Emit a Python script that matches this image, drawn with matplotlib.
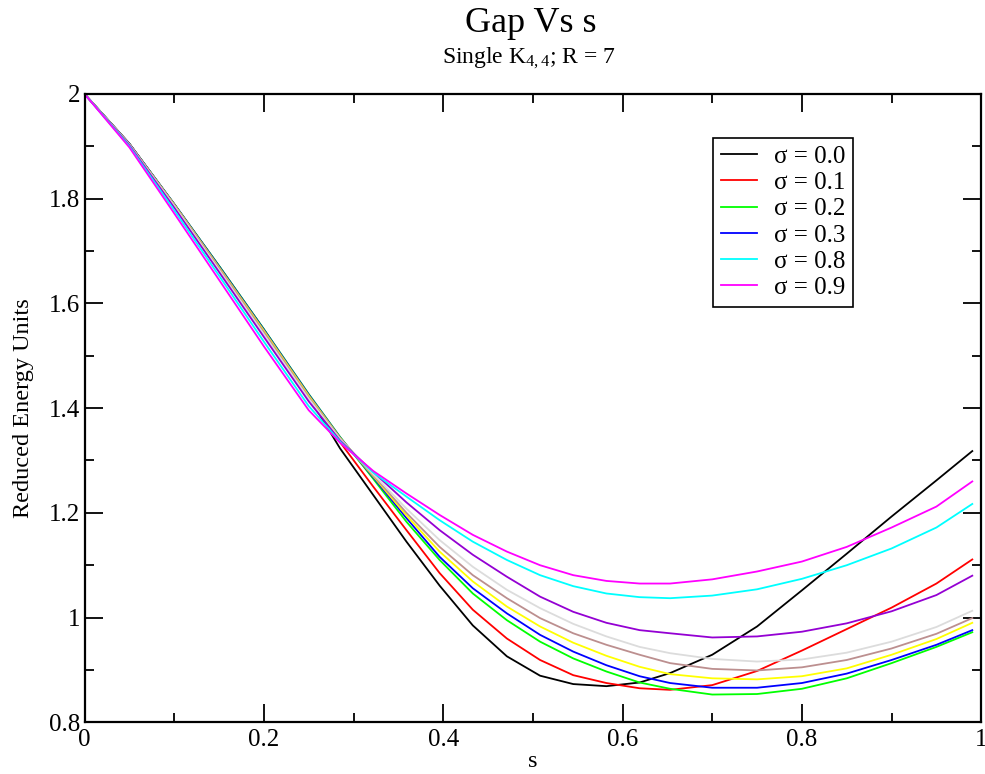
import matplotlib
matplotlib.use('Agg')
import matplotlib.pyplot as plt
from matplotlib.ticker import MultipleLocator, FuncFormatter

plt.rcParams['font.family'] = ['Liberation Serif', 'DejaVu Serif']
plt.rcParams['mathtext.fontset'] = 'custom'
plt.rcParams['mathtext.rm'] = 'Liberation Serif'
plt.rcParams['mathtext.it'] = 'Liberation Serif:italic'

s = [0, 0.05, 0.1, 0.15, 0.2, 0.25, 0.285, 0.322, 0.359, 0.396, 0.433, 0.471,
     0.508, 0.545, 0.582, 0.619, 0.653, 0.7, 0.75, 0.8, 0.85, 0.9, 0.95, 0.99]

# gap curves (reduced energy units)
black = [2.0, 1.905, 1.789, 1.671, 1.550, 1.422, 1.323, 1.234, 1.145, 1.061, 0.985, 0.926,
         0.889, 0.873, 0.869, 0.876, 0.894, 0.929, 0.983, 1.052, 1.122, 1.193, 1.262, 1.318]
red = [2.0, 1.905, 1.789, 1.670, 1.549, 1.425, 1.335, 1.250, 1.167, 1.085, 1.015, 0.960,
       0.919, 0.890, 0.875, 0.865, 0.862, 0.871, 0.898, 0.937, 0.978, 1.019, 1.065, 1.111]
green = [2.0, 1.905, 1.790, 1.672, 1.551, 1.427, 1.345, 1.265, 1.183, 1.110, 1.046, 0.995,
         0.954, 0.922, 0.897, 0.876, 0.864, 0.853, 0.854, 0.864, 0.884, 0.913, 0.944, 0.972]
blue = [2.0, 1.905, 1.790, 1.671, 1.550, 1.426, 1.344, 1.268, 1.190, 1.116, 1.056, 1.008,
        0.967, 0.935, 0.909, 0.888, 0.875, 0.866, 0.866, 0.875, 0.893, 0.919, 0.948, 0.976]
yellow = [2.0, 1.904, 1.789, 1.669, 1.548, 1.424, 1.343, 1.270, 1.195, 1.126, 1.069, 1.021,
          0.983, 0.952, 0.927, 0.906, 0.892, 0.884, 0.882, 0.888, 0.903, 0.929, 0.959, 0.990]
brown = [2.0, 1.904, 1.788, 1.667, 1.545, 1.421, 1.342, 1.272, 1.200, 1.135, 1.081, 1.037,
         0.999, 0.970, 0.948, 0.929, 0.913, 0.902, 0.899, 0.905, 0.919, 0.941, 0.969, 0.999]
grey = [2.0, 1.903, 1.786, 1.664, 1.541, 1.418, 1.341, 1.274, 1.208, 1.148, 1.097, 1.053,
        1.018, 0.988, 0.964, 0.944, 0.932, 0.921, 0.916, 0.920, 0.933, 0.954, 0.982, 1.013]
violet = [2.0, 1.902, 1.783, 1.660, 1.536, 1.413, 1.338, 1.278, 1.220, 1.167, 1.120, 1.078,
          1.040, 1.011, 0.990, 0.976, 0.970, 0.962, 0.964, 0.973, 0.989, 1.012, 1.043, 1.080]
cyan = [2.0, 1.900, 1.778, 1.653, 1.527, 1.404, 1.336, 1.277, 1.231, 1.186, 1.145, 1.110,
        1.081, 1.060, 1.046, 1.039, 1.037, 1.042, 1.054, 1.074, 1.100, 1.132, 1.172, 1.217]
magenta = [2.0, 1.898, 1.772, 1.645, 1.518, 1.396, 1.334, 1.280, 1.237, 1.196, 1.158, 1.126,
           1.100, 1.081, 1.070, 1.065, 1.065, 1.073, 1.088, 1.107, 1.135, 1.172, 1.212, 1.260]

curves = [black, red, green, blue, yellow, brown, grey, violet, cyan, magenta]
colors = ['#000000', '#ff0000', '#00ff00', '#0000ff', '#ffff00',
          '#bc8f8f', '#dcdcdc', '#9400d3', '#00ffff', '#ff00ff']
labels = ['σ = 0.0', 'σ = 0.1', 'σ = 0.2', 'σ = 0.3', None,
          None, None, None, 'σ = 0.8', 'σ = 0.9']

fig = plt.figure(figsize=(9.85, 7.74), dpi=100)
ax = fig.add_axes([0.0858, 0.0668, 0.9104, 0.8118])

for y, c, lab in zip(curves, colors, labels):
    ax.plot(s, y, color=c, lw=1.3, label=lab if lab else '_nolegend_')

ax.set_xlim(0, 1)
ax.set_ylim(0.8, 2)
ax.xaxis.set_major_locator(MultipleLocator(0.2))
ax.xaxis.set_minor_locator(MultipleLocator(0.1))
ax.yaxis.set_major_locator(MultipleLocator(0.2))
ax.yaxis.set_minor_locator(MultipleLocator(0.1))
fmt = FuncFormatter(lambda v, p: ('%g' % round(v, 3)))
ax.xaxis.set_major_formatter(fmt)
ax.yaxis.set_major_formatter(fmt)
ax.tick_params(which='both', direction='in', top=True, right=True,
               labelsize=18, width=1.3)
ax.tick_params(which='major', length=13)
ax.tick_params(which='minor', length=6.5)
ax.tick_params(axis='y', pad=3)
ax.tick_params(axis='x', pad=5)
for sp in ax.spines.values():
    sp.set_linewidth(1.6)

ax.set_xlabel('s', fontsize=17.5, labelpad=0)
ax.set_ylabel('Reduced Energy Units', fontsize=17.5, labelpad=11)

fig.text(0.539, 0.959, 'Gap Vs s', ha='center', va='baseline', fontsize=26)
fig.text(0.537, 0.918, 'Single K$_{4,4}$; R = 7', ha='center', va='baseline',
         fontsize=17)

leg = ax.legend(loc='upper left', bbox_to_anchor=(0.701, 0.930), fontsize=18,
                frameon=True, fancybox=False, framealpha=1, edgecolor='black',
                handlelength=1.45, handletextpad=0.7, labelspacing=0.15,
                borderpad=0.3, borderaxespad=0)
leg.get_frame().set_linewidth(1.2)

fig.savefig('out.png', dpi=100)
